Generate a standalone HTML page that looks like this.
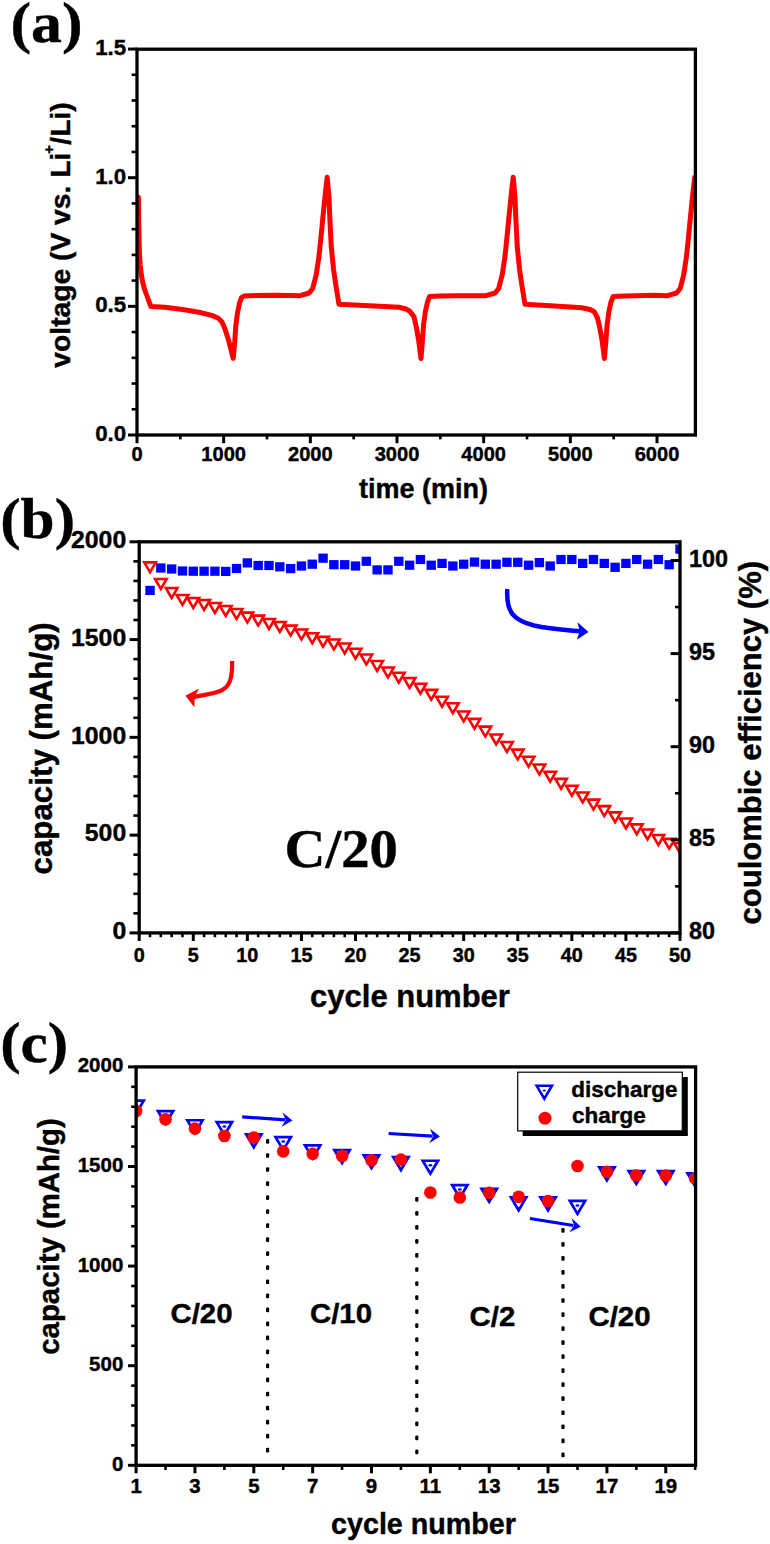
<!DOCTYPE html>
<html><head><meta charset="utf-8"><style>
html,body{margin:0;padding:0;background:#fff;}
svg{display:block;}
text{stroke:#000;stroke-width:0.4px;}
</style></head><body>
<svg width="770" height="1544" viewBox="0 0 770 1544">
<rect width="770" height="1544" fill="#fff"/>
<defs><clipPath id="ca"><rect x="137.00" y="49.20" width="558.40" height="385.80"/></clipPath></defs>
<path d="M138.4,197.3 L138.7,220.0 L139.1,240.0 L139.5,255.0 L140.2,265.0 L141.2,274.0 L142.6,282.0 L144.3,288.5 L146.3,294.0 L148.6,300.5 L151.0,306.6 L165.0,307.3 L186.0,310.0 L200.0,312.5 L211.8,315.4 L218.0,318.0 L222.0,322.0 L225.0,329.0 L228.5,340.0 L233.2,358.3 L234.7,342.0 L235.8,326.0 L237.4,313.5 L239.5,303.0 L241.6,297.5 L244.0,296.0 L256.0,295.5 L275.0,295.2 L290.0,295.4 L300.0,295.7 L309.1,293.0 L312.7,288.5 L316.3,274.4 L319.0,256.2 L320.9,238.1 L323.1,215.4 L325.4,192.7 L327.2,177.3 L329.0,197.2 L329.9,219.9 L331.3,247.1 L333.6,269.8 L336.3,288.0 L339.0,304.3 L374.5,305.9 L399.0,307.3 L406.0,309.0 L410.0,311.4 L414.0,316.8 L416.5,328.0 L418.6,340.0 L421.0,358.5 L422.5,340.0 L423.6,324.0 L425.5,311.0 L427.5,302.0 L429.5,296.5 L440.0,296.0 L456.4,295.8 L475.0,295.8 L486.0,295.7 L495.1,293.0 L498.7,288.5 L502.3,274.4 L505.0,256.2 L506.9,238.1 L509.1,215.4 L511.4,192.7 L513.2,177.3 L515.0,197.2 L515.9,219.9 L517.3,247.1 L519.6,269.8 L522.3,288.0 L525.0,304.3 L554.5,305.9 L581.8,307.8 L590.0,309.5 L594.0,311.4 L597.5,318.0 L599.5,326.4 L602.0,340.0 L604.4,358.5 L606.0,340.0 L607.2,324.0 L609.0,311.0 L611.0,302.0 L613.2,296.5 L625.0,296.0 L636.4,295.8 L655.0,295.3 L667.5,295.7 L676.6,293.0 L680.2,288.5 L683.8,274.4 L686.5,256.2 L688.4,238.1 L690.6,215.4 L692.9,192.7 L694.7,177.3" fill="none" stroke="#ff0000" stroke-width="5" stroke-linejoin="round" stroke-linecap="round" clip-path="url(#ca)"/>
<rect x="137.00" y="49.20" width="558.40" height="385.80" fill="none" stroke="#000" stroke-width="3.3"/>
<line x1="128.00" y1="435.00" x2="137.00" y2="435.00" stroke="#000" stroke-width="3.0" stroke-linecap="butt"/>
<line x1="131.60" y1="409.27" x2="137.00" y2="409.27" stroke="#000" stroke-width="2.6" stroke-linecap="butt"/>
<line x1="131.60" y1="383.54" x2="137.00" y2="383.54" stroke="#000" stroke-width="2.6" stroke-linecap="butt"/>
<line x1="131.60" y1="357.81" x2="137.00" y2="357.81" stroke="#000" stroke-width="2.6" stroke-linecap="butt"/>
<line x1="131.60" y1="332.08" x2="137.00" y2="332.08" stroke="#000" stroke-width="2.6" stroke-linecap="butt"/>
<line x1="128.00" y1="306.35" x2="137.00" y2="306.35" stroke="#000" stroke-width="3.0" stroke-linecap="butt"/>
<line x1="131.60" y1="280.62" x2="137.00" y2="280.62" stroke="#000" stroke-width="2.6" stroke-linecap="butt"/>
<line x1="131.60" y1="254.89" x2="137.00" y2="254.89" stroke="#000" stroke-width="2.6" stroke-linecap="butt"/>
<line x1="131.60" y1="229.16" x2="137.00" y2="229.16" stroke="#000" stroke-width="2.6" stroke-linecap="butt"/>
<line x1="131.60" y1="203.43" x2="137.00" y2="203.43" stroke="#000" stroke-width="2.6" stroke-linecap="butt"/>
<line x1="128.00" y1="177.70" x2="137.00" y2="177.70" stroke="#000" stroke-width="3.0" stroke-linecap="butt"/>
<line x1="131.60" y1="151.97" x2="137.00" y2="151.97" stroke="#000" stroke-width="2.6" stroke-linecap="butt"/>
<line x1="131.60" y1="126.24" x2="137.00" y2="126.24" stroke="#000" stroke-width="2.6" stroke-linecap="butt"/>
<line x1="131.60" y1="100.51" x2="137.00" y2="100.51" stroke="#000" stroke-width="2.6" stroke-linecap="butt"/>
<line x1="131.60" y1="74.78" x2="137.00" y2="74.78" stroke="#000" stroke-width="2.6" stroke-linecap="butt"/>
<line x1="128.00" y1="49.05" x2="137.00" y2="49.05" stroke="#000" stroke-width="3.0" stroke-linecap="butt"/>
<text x="126.20" y="440.80" font-family='"Liberation Sans", sans-serif' font-weight="bold" font-size="22.3" text-anchor="end" >0.0</text>
<text x="126.20" y="312.15" font-family='"Liberation Sans", sans-serif' font-weight="bold" font-size="22.3" text-anchor="end" >0.5</text>
<text x="126.20" y="183.50" font-family='"Liberation Sans", sans-serif' font-weight="bold" font-size="22.3" text-anchor="end" >1.0</text>
<text x="126.20" y="54.85" font-family='"Liberation Sans", sans-serif' font-weight="bold" font-size="22.3" text-anchor="end" >1.5</text>
<line x1="137.00" y1="435.00" x2="137.00" y2="443.20" stroke="#000" stroke-width="3.0" stroke-linecap="butt"/>
<line x1="180.33" y1="435.00" x2="180.33" y2="439.40" stroke="#000" stroke-width="2.6" stroke-linecap="butt"/>
<line x1="223.67" y1="435.00" x2="223.67" y2="443.20" stroke="#000" stroke-width="3.0" stroke-linecap="butt"/>
<line x1="267.00" y1="435.00" x2="267.00" y2="439.40" stroke="#000" stroke-width="2.6" stroke-linecap="butt"/>
<line x1="310.33" y1="435.00" x2="310.33" y2="443.20" stroke="#000" stroke-width="3.0" stroke-linecap="butt"/>
<line x1="353.67" y1="435.00" x2="353.67" y2="439.40" stroke="#000" stroke-width="2.6" stroke-linecap="butt"/>
<line x1="397.00" y1="435.00" x2="397.00" y2="443.20" stroke="#000" stroke-width="3.0" stroke-linecap="butt"/>
<line x1="440.33" y1="435.00" x2="440.33" y2="439.40" stroke="#000" stroke-width="2.6" stroke-linecap="butt"/>
<line x1="483.67" y1="435.00" x2="483.67" y2="443.20" stroke="#000" stroke-width="3.0" stroke-linecap="butt"/>
<line x1="527.00" y1="435.00" x2="527.00" y2="439.40" stroke="#000" stroke-width="2.6" stroke-linecap="butt"/>
<line x1="570.34" y1="435.00" x2="570.34" y2="443.20" stroke="#000" stroke-width="3.0" stroke-linecap="butt"/>
<line x1="613.67" y1="435.00" x2="613.67" y2="439.40" stroke="#000" stroke-width="2.6" stroke-linecap="butt"/>
<line x1="657.00" y1="435.00" x2="657.00" y2="443.20" stroke="#000" stroke-width="3.0" stroke-linecap="butt"/>
<text x="137.00" y="461.00" font-family='"Liberation Sans", sans-serif' font-weight="bold" font-size="20.1" text-anchor="middle" >0</text>
<text x="223.67" y="461.00" font-family='"Liberation Sans", sans-serif' font-weight="bold" font-size="20.1" text-anchor="middle" >1000</text>
<text x="310.33" y="461.00" font-family='"Liberation Sans", sans-serif' font-weight="bold" font-size="20.1" text-anchor="middle" >2000</text>
<text x="397.00" y="461.00" font-family='"Liberation Sans", sans-serif' font-weight="bold" font-size="20.1" text-anchor="middle" >3000</text>
<text x="483.67" y="461.00" font-family='"Liberation Sans", sans-serif' font-weight="bold" font-size="20.1" text-anchor="middle" >4000</text>
<text x="570.34" y="461.00" font-family='"Liberation Sans", sans-serif' font-weight="bold" font-size="20.1" text-anchor="middle" >5000</text>
<text x="657.00" y="461.00" font-family='"Liberation Sans", sans-serif' font-weight="bold" font-size="20.1" text-anchor="middle" >6000</text>
<text x="423.40" y="497.60" font-family='"Liberation Sans", sans-serif' font-weight="bold" font-size="27" text-anchor="middle" >time (min)</text>
<text transform="translate(70.4,235.0) rotate(-90) scale(1.009,1)" x="0" y="0" font-family='"Liberation Sans", sans-serif' font-weight="bold" font-size="28" text-anchor="middle">voltage (V vs. Li<tspan font-size="14.5" dx="-1" dy="-16.5">+</tspan><tspan dx="0.5" dy="16.5">/Li)</tspan></text>
<text transform="translate(10.50,41.80) scale(1.085,1)" font-family='"Liberation Serif", serif' font-weight="bold" font-size="57" text-anchor="start" >(a)</text>
<defs><clipPath id="cb"><rect x="139.20" y="541.80" width="540.80" height="391.10"/></clipPath></defs>
<g clip-path="url(#cb)">
<rect x="145.32" y="585.80" width="9.4" height="9.2" fill="#0000ff"/>
<rect x="156.13" y="563.40" width="9.4" height="9.2" fill="#0000ff"/>
<rect x="166.95" y="564.40" width="9.4" height="9.2" fill="#0000ff"/>
<rect x="177.76" y="566.40" width="9.4" height="9.2" fill="#0000ff"/>
<rect x="188.58" y="566.60" width="9.4" height="9.2" fill="#0000ff"/>
<rect x="199.40" y="566.60" width="9.4" height="9.2" fill="#0000ff"/>
<rect x="210.21" y="566.60" width="9.4" height="9.2" fill="#0000ff"/>
<rect x="221.03" y="566.80" width="9.4" height="9.2" fill="#0000ff"/>
<rect x="231.84" y="563.90" width="9.4" height="9.2" fill="#0000ff"/>
<rect x="242.66" y="558.30" width="9.4" height="9.2" fill="#0000ff"/>
<rect x="253.48" y="560.90" width="9.4" height="9.2" fill="#0000ff"/>
<rect x="264.29" y="560.90" width="9.4" height="9.2" fill="#0000ff"/>
<rect x="275.11" y="562.20" width="9.4" height="9.2" fill="#0000ff"/>
<rect x="285.92" y="564.00" width="9.4" height="9.2" fill="#0000ff"/>
<rect x="296.74" y="561.40" width="9.4" height="9.2" fill="#0000ff"/>
<rect x="307.56" y="559.60" width="9.4" height="9.2" fill="#0000ff"/>
<rect x="318.37" y="553.60" width="9.4" height="9.2" fill="#0000ff"/>
<rect x="329.19" y="560.10" width="9.4" height="9.2" fill="#0000ff"/>
<rect x="340.00" y="560.10" width="9.4" height="9.2" fill="#0000ff"/>
<rect x="350.82" y="561.40" width="9.4" height="9.2" fill="#0000ff"/>
<rect x="361.64" y="556.70" width="9.4" height="9.2" fill="#0000ff"/>
<rect x="372.45" y="565.30" width="9.4" height="9.2" fill="#0000ff"/>
<rect x="383.27" y="565.30" width="9.4" height="9.2" fill="#0000ff"/>
<rect x="394.08" y="556.70" width="9.4" height="9.2" fill="#0000ff"/>
<rect x="404.90" y="560.60" width="9.4" height="9.2" fill="#0000ff"/>
<rect x="415.72" y="554.90" width="9.4" height="9.2" fill="#0000ff"/>
<rect x="426.53" y="560.60" width="9.4" height="9.2" fill="#0000ff"/>
<rect x="437.35" y="558.80" width="9.4" height="9.2" fill="#0000ff"/>
<rect x="448.16" y="561.40" width="9.4" height="9.2" fill="#0000ff"/>
<rect x="458.98" y="559.60" width="9.4" height="9.2" fill="#0000ff"/>
<rect x="469.80" y="557.50" width="9.4" height="9.2" fill="#0000ff"/>
<rect x="480.61" y="559.60" width="9.4" height="9.2" fill="#0000ff"/>
<rect x="491.43" y="559.60" width="9.4" height="9.2" fill="#0000ff"/>
<rect x="502.24" y="557.70" width="9.4" height="9.2" fill="#0000ff"/>
<rect x="513.06" y="557.70" width="9.4" height="9.2" fill="#0000ff"/>
<rect x="523.88" y="560.60" width="9.4" height="9.2" fill="#0000ff"/>
<rect x="534.69" y="558.00" width="9.4" height="9.2" fill="#0000ff"/>
<rect x="545.51" y="561.40" width="9.4" height="9.2" fill="#0000ff"/>
<rect x="556.32" y="554.90" width="9.4" height="9.2" fill="#0000ff"/>
<rect x="567.14" y="554.90" width="9.4" height="9.2" fill="#0000ff"/>
<rect x="577.96" y="558.80" width="9.4" height="9.2" fill="#0000ff"/>
<rect x="588.77" y="554.90" width="9.4" height="9.2" fill="#0000ff"/>
<rect x="599.59" y="558.80" width="9.4" height="9.2" fill="#0000ff"/>
<rect x="610.40" y="562.70" width="9.4" height="9.2" fill="#0000ff"/>
<rect x="621.22" y="558.80" width="9.4" height="9.2" fill="#0000ff"/>
<rect x="632.04" y="554.90" width="9.4" height="9.2" fill="#0000ff"/>
<rect x="642.85" y="559.60" width="9.4" height="9.2" fill="#0000ff"/>
<rect x="653.67" y="554.90" width="9.4" height="9.2" fill="#0000ff"/>
<rect x="664.48" y="560.10" width="9.4" height="9.2" fill="#0000ff"/>
<rect x="675.30" y="544.50" width="9.4" height="9.2" fill="#0000ff"/>
<path d="M144.22,562.35 L155.82,562.35 L150.02,572.25 Z" fill="none" stroke="#ff0000" stroke-width="2.6" stroke-linejoin="miter"/>
<path d="M155.03,578.95 L166.63,578.95 L160.83,588.85 Z" fill="none" stroke="#ff0000" stroke-width="2.6" stroke-linejoin="miter"/>
<path d="M165.85,588.05 L177.45,588.05 L171.65,597.95 Z" fill="none" stroke="#ff0000" stroke-width="2.6" stroke-linejoin="miter"/>
<path d="M176.66,594.95 L188.26,594.95 L182.46,604.85 Z" fill="none" stroke="#ff0000" stroke-width="2.6" stroke-linejoin="miter"/>
<path d="M187.48,597.95 L199.08,597.95 L193.28,607.85 Z" fill="none" stroke="#ff0000" stroke-width="2.6" stroke-linejoin="miter"/>
<path d="M198.30,600.05 L209.90,600.05 L204.10,609.95 Z" fill="none" stroke="#ff0000" stroke-width="2.6" stroke-linejoin="miter"/>
<path d="M209.11,603.05 L220.71,603.05 L214.91,612.95 Z" fill="none" stroke="#ff0000" stroke-width="2.6" stroke-linejoin="miter"/>
<path d="M219.93,606.05 L231.53,606.05 L225.73,615.95 Z" fill="none" stroke="#ff0000" stroke-width="2.6" stroke-linejoin="miter"/>
<path d="M230.74,609.05 L242.34,609.05 L236.54,618.95 Z" fill="none" stroke="#ff0000" stroke-width="2.6" stroke-linejoin="miter"/>
<path d="M241.56,612.65 L253.16,612.65 L247.36,622.55 Z" fill="none" stroke="#ff0000" stroke-width="2.6" stroke-linejoin="miter"/>
<path d="M252.38,615.65 L263.98,615.65 L258.18,625.55 Z" fill="none" stroke="#ff0000" stroke-width="2.6" stroke-linejoin="miter"/>
<path d="M263.19,618.95 L274.79,618.95 L268.99,628.85 Z" fill="none" stroke="#ff0000" stroke-width="2.6" stroke-linejoin="miter"/>
<path d="M274.01,621.95 L285.61,621.95 L279.81,631.85 Z" fill="none" stroke="#ff0000" stroke-width="2.6" stroke-linejoin="miter"/>
<path d="M284.82,625.65 L296.42,625.65 L290.62,635.55 Z" fill="none" stroke="#ff0000" stroke-width="2.6" stroke-linejoin="miter"/>
<path d="M295.64,629.55 L307.24,629.55 L301.44,639.45 Z" fill="none" stroke="#ff0000" stroke-width="2.6" stroke-linejoin="miter"/>
<path d="M306.46,633.25 L318.06,633.25 L312.26,643.15 Z" fill="none" stroke="#ff0000" stroke-width="2.6" stroke-linejoin="miter"/>
<path d="M317.27,636.85 L328.87,636.85 L323.07,646.75 Z" fill="none" stroke="#ff0000" stroke-width="2.6" stroke-linejoin="miter"/>
<path d="M328.09,639.55 L339.69,639.55 L333.89,649.45 Z" fill="none" stroke="#ff0000" stroke-width="2.6" stroke-linejoin="miter"/>
<path d="M338.90,643.55 L350.50,643.55 L344.70,653.45 Z" fill="none" stroke="#ff0000" stroke-width="2.6" stroke-linejoin="miter"/>
<path d="M349.72,648.75 L361.32,648.75 L355.52,658.65 Z" fill="none" stroke="#ff0000" stroke-width="2.6" stroke-linejoin="miter"/>
<path d="M360.54,654.55 L372.14,654.55 L366.34,664.45 Z" fill="none" stroke="#ff0000" stroke-width="2.6" stroke-linejoin="miter"/>
<path d="M371.35,661.05 L382.95,661.05 L377.15,670.95 Z" fill="none" stroke="#ff0000" stroke-width="2.6" stroke-linejoin="miter"/>
<path d="M382.17,667.55 L393.77,667.55 L387.97,677.45 Z" fill="none" stroke="#ff0000" stroke-width="2.6" stroke-linejoin="miter"/>
<path d="M392.98,672.75 L404.58,672.75 L398.78,682.65 Z" fill="none" stroke="#ff0000" stroke-width="2.6" stroke-linejoin="miter"/>
<path d="M403.80,677.95 L415.40,677.95 L409.60,687.85 Z" fill="none" stroke="#ff0000" stroke-width="2.6" stroke-linejoin="miter"/>
<path d="M414.62,683.75 L426.22,683.75 L420.42,693.65 Z" fill="none" stroke="#ff0000" stroke-width="2.6" stroke-linejoin="miter"/>
<path d="M425.43,689.85 L437.03,689.85 L431.23,699.75 Z" fill="none" stroke="#ff0000" stroke-width="2.6" stroke-linejoin="miter"/>
<path d="M436.25,696.75 L447.85,696.75 L442.05,706.65 Z" fill="none" stroke="#ff0000" stroke-width="2.6" stroke-linejoin="miter"/>
<path d="M447.06,703.25 L458.66,703.25 L452.86,713.15 Z" fill="none" stroke="#ff0000" stroke-width="2.6" stroke-linejoin="miter"/>
<path d="M457.88,711.45 L469.48,711.45 L463.68,721.35 Z" fill="none" stroke="#ff0000" stroke-width="2.6" stroke-linejoin="miter"/>
<path d="M468.70,718.85 L480.30,718.85 L474.50,728.75 Z" fill="none" stroke="#ff0000" stroke-width="2.6" stroke-linejoin="miter"/>
<path d="M479.51,726.65 L491.11,726.65 L485.31,736.55 Z" fill="none" stroke="#ff0000" stroke-width="2.6" stroke-linejoin="miter"/>
<path d="M490.33,734.45 L501.93,734.45 L496.13,744.35 Z" fill="none" stroke="#ff0000" stroke-width="2.6" stroke-linejoin="miter"/>
<path d="M501.14,742.05 L512.74,742.05 L506.94,751.95 Z" fill="none" stroke="#ff0000" stroke-width="2.6" stroke-linejoin="miter"/>
<path d="M511.96,749.65 L523.56,749.65 L517.76,759.55 Z" fill="none" stroke="#ff0000" stroke-width="2.6" stroke-linejoin="miter"/>
<path d="M522.78,756.75 L534.38,756.75 L528.58,766.65 Z" fill="none" stroke="#ff0000" stroke-width="2.6" stroke-linejoin="miter"/>
<path d="M533.59,764.55 L545.19,764.55 L539.39,774.45 Z" fill="none" stroke="#ff0000" stroke-width="2.6" stroke-linejoin="miter"/>
<path d="M544.41,771.75 L556.01,771.75 L550.21,781.65 Z" fill="none" stroke="#ff0000" stroke-width="2.6" stroke-linejoin="miter"/>
<path d="M555.22,778.85 L566.82,778.85 L561.02,788.75 Z" fill="none" stroke="#ff0000" stroke-width="2.6" stroke-linejoin="miter"/>
<path d="M566.04,785.75 L577.64,785.75 L571.84,795.65 Z" fill="none" stroke="#ff0000" stroke-width="2.6" stroke-linejoin="miter"/>
<path d="M576.86,792.45 L588.46,792.45 L582.66,802.35 Z" fill="none" stroke="#ff0000" stroke-width="2.6" stroke-linejoin="miter"/>
<path d="M587.67,799.65 L599.27,799.65 L593.47,809.55 Z" fill="none" stroke="#ff0000" stroke-width="2.6" stroke-linejoin="miter"/>
<path d="M598.49,806.15 L610.09,806.15 L604.29,816.05 Z" fill="none" stroke="#ff0000" stroke-width="2.6" stroke-linejoin="miter"/>
<path d="M609.30,812.35 L620.90,812.35 L615.10,822.25 Z" fill="none" stroke="#ff0000" stroke-width="2.6" stroke-linejoin="miter"/>
<path d="M620.12,818.45 L631.72,818.45 L625.92,828.35 Z" fill="none" stroke="#ff0000" stroke-width="2.6" stroke-linejoin="miter"/>
<path d="M630.94,824.35 L642.54,824.35 L636.74,834.25 Z" fill="none" stroke="#ff0000" stroke-width="2.6" stroke-linejoin="miter"/>
<path d="M641.75,829.45 L653.35,829.45 L647.55,839.35 Z" fill="none" stroke="#ff0000" stroke-width="2.6" stroke-linejoin="miter"/>
<path d="M652.57,834.95 L664.17,834.95 L658.37,844.85 Z" fill="none" stroke="#ff0000" stroke-width="2.6" stroke-linejoin="miter"/>
<path d="M663.38,838.85 L674.98,838.85 L669.18,848.75 Z" fill="none" stroke="#ff0000" stroke-width="2.6" stroke-linejoin="miter"/>
<path d="M674.20,843.05 L685.80,843.05 L680.00,852.95 Z" fill="none" stroke="#ff0000" stroke-width="2.6" stroke-linejoin="miter"/>
</g>
<rect x="139.20" y="541.80" width="540.80" height="391.10" fill="none" stroke="#000" stroke-width="3.3"/>
<line x1="129.60" y1="932.90" x2="139.20" y2="932.90" stroke="#000" stroke-width="3.0" stroke-linecap="butt"/>
<line x1="133.40" y1="913.35" x2="139.20" y2="913.35" stroke="#000" stroke-width="2.6" stroke-linecap="butt"/>
<line x1="133.40" y1="893.79" x2="139.20" y2="893.79" stroke="#000" stroke-width="2.6" stroke-linecap="butt"/>
<line x1="133.40" y1="874.24" x2="139.20" y2="874.24" stroke="#000" stroke-width="2.6" stroke-linecap="butt"/>
<line x1="133.40" y1="854.68" x2="139.20" y2="854.68" stroke="#000" stroke-width="2.6" stroke-linecap="butt"/>
<line x1="129.60" y1="835.12" x2="139.20" y2="835.12" stroke="#000" stroke-width="3.0" stroke-linecap="butt"/>
<line x1="133.40" y1="815.57" x2="139.20" y2="815.57" stroke="#000" stroke-width="2.6" stroke-linecap="butt"/>
<line x1="133.40" y1="796.01" x2="139.20" y2="796.01" stroke="#000" stroke-width="2.6" stroke-linecap="butt"/>
<line x1="133.40" y1="776.46" x2="139.20" y2="776.46" stroke="#000" stroke-width="2.6" stroke-linecap="butt"/>
<line x1="133.40" y1="756.90" x2="139.20" y2="756.90" stroke="#000" stroke-width="2.6" stroke-linecap="butt"/>
<line x1="129.60" y1="737.35" x2="139.20" y2="737.35" stroke="#000" stroke-width="3.0" stroke-linecap="butt"/>
<line x1="133.40" y1="717.79" x2="139.20" y2="717.79" stroke="#000" stroke-width="2.6" stroke-linecap="butt"/>
<line x1="133.40" y1="698.24" x2="139.20" y2="698.24" stroke="#000" stroke-width="2.6" stroke-linecap="butt"/>
<line x1="133.40" y1="678.68" x2="139.20" y2="678.68" stroke="#000" stroke-width="2.6" stroke-linecap="butt"/>
<line x1="133.40" y1="659.13" x2="139.20" y2="659.13" stroke="#000" stroke-width="2.6" stroke-linecap="butt"/>
<line x1="129.60" y1="639.58" x2="139.20" y2="639.58" stroke="#000" stroke-width="3.0" stroke-linecap="butt"/>
<line x1="133.40" y1="620.02" x2="139.20" y2="620.02" stroke="#000" stroke-width="2.6" stroke-linecap="butt"/>
<line x1="133.40" y1="600.46" x2="139.20" y2="600.46" stroke="#000" stroke-width="2.6" stroke-linecap="butt"/>
<line x1="133.40" y1="580.91" x2="139.20" y2="580.91" stroke="#000" stroke-width="2.6" stroke-linecap="butt"/>
<line x1="133.40" y1="561.36" x2="139.20" y2="561.36" stroke="#000" stroke-width="2.6" stroke-linecap="butt"/>
<line x1="129.60" y1="541.80" x2="139.20" y2="541.80" stroke="#000" stroke-width="3.0" stroke-linecap="butt"/>
<text x="126.20" y="939.10" font-family='"Liberation Sans", sans-serif' font-weight="bold" font-size="24.8" text-anchor="end" >0</text>
<text x="126.20" y="841.33" font-family='"Liberation Sans", sans-serif' font-weight="bold" font-size="24.8" text-anchor="end" >500</text>
<text x="126.20" y="743.55" font-family='"Liberation Sans", sans-serif' font-weight="bold" font-size="24.8" text-anchor="end" >1000</text>
<text x="126.20" y="645.78" font-family='"Liberation Sans", sans-serif' font-weight="bold" font-size="24.8" text-anchor="end" >1500</text>
<text x="126.20" y="548.00" font-family='"Liberation Sans", sans-serif' font-weight="bold" font-size="24.8" text-anchor="end" >2000</text>
<line x1="670.60" y1="932.90" x2="680.00" y2="932.90" stroke="#000" stroke-width="3.0" stroke-linecap="butt"/>
<line x1="675.00" y1="886.35" x2="680.00" y2="886.35" stroke="#000" stroke-width="2.6" stroke-linecap="butt"/>
<line x1="670.60" y1="839.80" x2="680.00" y2="839.80" stroke="#000" stroke-width="3.0" stroke-linecap="butt"/>
<line x1="675.00" y1="793.25" x2="680.00" y2="793.25" stroke="#000" stroke-width="2.6" stroke-linecap="butt"/>
<line x1="670.60" y1="746.70" x2="680.00" y2="746.70" stroke="#000" stroke-width="3.0" stroke-linecap="butt"/>
<line x1="675.00" y1="700.15" x2="680.00" y2="700.15" stroke="#000" stroke-width="2.6" stroke-linecap="butt"/>
<line x1="670.60" y1="653.60" x2="680.00" y2="653.60" stroke="#000" stroke-width="3.0" stroke-linecap="butt"/>
<line x1="675.00" y1="607.05" x2="680.00" y2="607.05" stroke="#000" stroke-width="2.6" stroke-linecap="butt"/>
<line x1="670.60" y1="560.50" x2="680.00" y2="560.50" stroke="#000" stroke-width="3.0" stroke-linecap="butt"/>
<text x="689.00" y="939.20" font-family='"Liberation Sans", sans-serif' font-weight="bold" font-size="23.4" text-anchor="start" >80</text>
<text x="689.00" y="846.10" font-family='"Liberation Sans", sans-serif' font-weight="bold" font-size="23.4" text-anchor="start" >85</text>
<text x="689.00" y="753.00" font-family='"Liberation Sans", sans-serif' font-weight="bold" font-size="23.4" text-anchor="start" >90</text>
<text x="689.00" y="659.90" font-family='"Liberation Sans", sans-serif' font-weight="bold" font-size="23.4" text-anchor="start" >95</text>
<text x="689.00" y="566.80" font-family='"Liberation Sans", sans-serif' font-weight="bold" font-size="23.4" text-anchor="start" >100</text>
<line x1="139.20" y1="932.90" x2="139.20" y2="941.00" stroke="#000" stroke-width="3.0" stroke-linecap="butt"/>
<line x1="150.02" y1="932.90" x2="150.02" y2="937.20" stroke="#000" stroke-width="2.6" stroke-linecap="butt"/>
<line x1="160.83" y1="932.90" x2="160.83" y2="937.20" stroke="#000" stroke-width="2.6" stroke-linecap="butt"/>
<line x1="171.65" y1="932.90" x2="171.65" y2="937.20" stroke="#000" stroke-width="2.6" stroke-linecap="butt"/>
<line x1="182.46" y1="932.90" x2="182.46" y2="937.20" stroke="#000" stroke-width="2.6" stroke-linecap="butt"/>
<line x1="193.28" y1="932.90" x2="193.28" y2="941.00" stroke="#000" stroke-width="3.0" stroke-linecap="butt"/>
<line x1="204.10" y1="932.90" x2="204.10" y2="937.20" stroke="#000" stroke-width="2.6" stroke-linecap="butt"/>
<line x1="214.91" y1="932.90" x2="214.91" y2="937.20" stroke="#000" stroke-width="2.6" stroke-linecap="butt"/>
<line x1="225.73" y1="932.90" x2="225.73" y2="937.20" stroke="#000" stroke-width="2.6" stroke-linecap="butt"/>
<line x1="236.54" y1="932.90" x2="236.54" y2="937.20" stroke="#000" stroke-width="2.6" stroke-linecap="butt"/>
<line x1="247.36" y1="932.90" x2="247.36" y2="941.00" stroke="#000" stroke-width="3.0" stroke-linecap="butt"/>
<line x1="258.18" y1="932.90" x2="258.18" y2="937.20" stroke="#000" stroke-width="2.6" stroke-linecap="butt"/>
<line x1="268.99" y1="932.90" x2="268.99" y2="937.20" stroke="#000" stroke-width="2.6" stroke-linecap="butt"/>
<line x1="279.81" y1="932.90" x2="279.81" y2="937.20" stroke="#000" stroke-width="2.6" stroke-linecap="butt"/>
<line x1="290.62" y1="932.90" x2="290.62" y2="937.20" stroke="#000" stroke-width="2.6" stroke-linecap="butt"/>
<line x1="301.44" y1="932.90" x2="301.44" y2="941.00" stroke="#000" stroke-width="3.0" stroke-linecap="butt"/>
<line x1="312.26" y1="932.90" x2="312.26" y2="937.20" stroke="#000" stroke-width="2.6" stroke-linecap="butt"/>
<line x1="323.07" y1="932.90" x2="323.07" y2="937.20" stroke="#000" stroke-width="2.6" stroke-linecap="butt"/>
<line x1="333.89" y1="932.90" x2="333.89" y2="937.20" stroke="#000" stroke-width="2.6" stroke-linecap="butt"/>
<line x1="344.70" y1="932.90" x2="344.70" y2="937.20" stroke="#000" stroke-width="2.6" stroke-linecap="butt"/>
<line x1="355.52" y1="932.90" x2="355.52" y2="941.00" stroke="#000" stroke-width="3.0" stroke-linecap="butt"/>
<line x1="366.34" y1="932.90" x2="366.34" y2="937.20" stroke="#000" stroke-width="2.6" stroke-linecap="butt"/>
<line x1="377.15" y1="932.90" x2="377.15" y2="937.20" stroke="#000" stroke-width="2.6" stroke-linecap="butt"/>
<line x1="387.97" y1="932.90" x2="387.97" y2="937.20" stroke="#000" stroke-width="2.6" stroke-linecap="butt"/>
<line x1="398.78" y1="932.90" x2="398.78" y2="937.20" stroke="#000" stroke-width="2.6" stroke-linecap="butt"/>
<line x1="409.60" y1="932.90" x2="409.60" y2="941.00" stroke="#000" stroke-width="3.0" stroke-linecap="butt"/>
<line x1="420.42" y1="932.90" x2="420.42" y2="937.20" stroke="#000" stroke-width="2.6" stroke-linecap="butt"/>
<line x1="431.23" y1="932.90" x2="431.23" y2="937.20" stroke="#000" stroke-width="2.6" stroke-linecap="butt"/>
<line x1="442.05" y1="932.90" x2="442.05" y2="937.20" stroke="#000" stroke-width="2.6" stroke-linecap="butt"/>
<line x1="452.86" y1="932.90" x2="452.86" y2="937.20" stroke="#000" stroke-width="2.6" stroke-linecap="butt"/>
<line x1="463.68" y1="932.90" x2="463.68" y2="941.00" stroke="#000" stroke-width="3.0" stroke-linecap="butt"/>
<line x1="474.50" y1="932.90" x2="474.50" y2="937.20" stroke="#000" stroke-width="2.6" stroke-linecap="butt"/>
<line x1="485.31" y1="932.90" x2="485.31" y2="937.20" stroke="#000" stroke-width="2.6" stroke-linecap="butt"/>
<line x1="496.13" y1="932.90" x2="496.13" y2="937.20" stroke="#000" stroke-width="2.6" stroke-linecap="butt"/>
<line x1="506.94" y1="932.90" x2="506.94" y2="937.20" stroke="#000" stroke-width="2.6" stroke-linecap="butt"/>
<line x1="517.76" y1="932.90" x2="517.76" y2="941.00" stroke="#000" stroke-width="3.0" stroke-linecap="butt"/>
<line x1="528.58" y1="932.90" x2="528.58" y2="937.20" stroke="#000" stroke-width="2.6" stroke-linecap="butt"/>
<line x1="539.39" y1="932.90" x2="539.39" y2="937.20" stroke="#000" stroke-width="2.6" stroke-linecap="butt"/>
<line x1="550.21" y1="932.90" x2="550.21" y2="937.20" stroke="#000" stroke-width="2.6" stroke-linecap="butt"/>
<line x1="561.02" y1="932.90" x2="561.02" y2="937.20" stroke="#000" stroke-width="2.6" stroke-linecap="butt"/>
<line x1="571.84" y1="932.90" x2="571.84" y2="941.00" stroke="#000" stroke-width="3.0" stroke-linecap="butt"/>
<line x1="582.66" y1="932.90" x2="582.66" y2="937.20" stroke="#000" stroke-width="2.6" stroke-linecap="butt"/>
<line x1="593.47" y1="932.90" x2="593.47" y2="937.20" stroke="#000" stroke-width="2.6" stroke-linecap="butt"/>
<line x1="604.29" y1="932.90" x2="604.29" y2="937.20" stroke="#000" stroke-width="2.6" stroke-linecap="butt"/>
<line x1="615.10" y1="932.90" x2="615.10" y2="937.20" stroke="#000" stroke-width="2.6" stroke-linecap="butt"/>
<line x1="625.92" y1="932.90" x2="625.92" y2="941.00" stroke="#000" stroke-width="3.0" stroke-linecap="butt"/>
<line x1="636.74" y1="932.90" x2="636.74" y2="937.20" stroke="#000" stroke-width="2.6" stroke-linecap="butt"/>
<line x1="647.55" y1="932.90" x2="647.55" y2="937.20" stroke="#000" stroke-width="2.6" stroke-linecap="butt"/>
<line x1="658.37" y1="932.90" x2="658.37" y2="937.20" stroke="#000" stroke-width="2.6" stroke-linecap="butt"/>
<line x1="669.18" y1="932.90" x2="669.18" y2="937.20" stroke="#000" stroke-width="2.6" stroke-linecap="butt"/>
<line x1="680.00" y1="932.90" x2="680.00" y2="941.00" stroke="#000" stroke-width="3.0" stroke-linecap="butt"/>
<text x="139.20" y="961.70" font-family='"Liberation Sans", sans-serif' font-weight="bold" font-size="19.8" text-anchor="middle" >0</text>
<text x="193.28" y="961.70" font-family='"Liberation Sans", sans-serif' font-weight="bold" font-size="19.8" text-anchor="middle" >5</text>
<text x="247.36" y="961.70" font-family='"Liberation Sans", sans-serif' font-weight="bold" font-size="19.8" text-anchor="middle" >10</text>
<text x="301.44" y="961.70" font-family='"Liberation Sans", sans-serif' font-weight="bold" font-size="19.8" text-anchor="middle" >15</text>
<text x="355.52" y="961.70" font-family='"Liberation Sans", sans-serif' font-weight="bold" font-size="19.8" text-anchor="middle" >20</text>
<text x="409.60" y="961.70" font-family='"Liberation Sans", sans-serif' font-weight="bold" font-size="19.8" text-anchor="middle" >25</text>
<text x="463.68" y="961.70" font-family='"Liberation Sans", sans-serif' font-weight="bold" font-size="19.8" text-anchor="middle" >30</text>
<text x="517.76" y="961.70" font-family='"Liberation Sans", sans-serif' font-weight="bold" font-size="19.8" text-anchor="middle" >35</text>
<text x="571.84" y="961.70" font-family='"Liberation Sans", sans-serif' font-weight="bold" font-size="19.8" text-anchor="middle" >40</text>
<text x="625.92" y="961.70" font-family='"Liberation Sans", sans-serif' font-weight="bold" font-size="19.8" text-anchor="middle" >45</text>
<text x="680.00" y="961.70" font-family='"Liberation Sans", sans-serif' font-weight="bold" font-size="19.8" text-anchor="middle" >50</text>
<text x="410.00" y="1006.80" font-family='"Liberation Sans", sans-serif' font-weight="bold" font-size="31" text-anchor="middle" >cycle number</text>
<text transform="translate(52,748.4) rotate(-90) scale(1.01,1)" font-family='"Liberation Sans", sans-serif' font-weight="bold" font-size="31" text-anchor="middle">capacity (mAh/g)</text>
<text transform="translate(760.5,742.7) rotate(-90)" font-family='"Liberation Sans", sans-serif' font-weight="bold" font-size="31" text-anchor="middle">coulombic efficiency (%)</text>
<text transform="translate(0.20,538.10) scale(1.075,1)" font-family='"Liberation Serif", serif' font-weight="bold" font-size="57" text-anchor="start" >(b)</text>
<text transform="translate(284.60,867.00) scale(1.03,1)" font-family='"Liberation Serif", serif' font-weight="bold" font-size="55" text-anchor="start" >C/20</text>
<path d="M232.1,661 C232.5,678 230,688 219,691.5 C212,693.7 204,695 192,697.4" fill="none" stroke="#ff0000" stroke-width="4.2"/>
<path d="M185.4,695.7 L199,688.6 L194.6,697.3 L194.4,707.3 Z" fill="#ff0000"/>
<path d="M507.3,589 C506,612 513,620 534,625.5 C550,629 566,630 580,631.3" fill="none" stroke="#0000ff" stroke-width="4.5"/>
<path d="M588.5,632 L577.5,622.2 L579.6,631.5 L576.8,639.8 Z" fill="#0000ff"/>
<defs><clipPath id="cc"><rect x="136.10" y="1066.90" width="559.50" height="398.40"/></clipPath></defs>
<rect x="266.00" y="1139.10" width="3.2" height="4.7" rx="1.2" fill="#000"/>
<rect x="266.00" y="1153.13" width="3.2" height="4.7" rx="1.2" fill="#000"/>
<rect x="266.00" y="1167.16" width="3.2" height="4.7" rx="1.2" fill="#000"/>
<rect x="266.00" y="1181.19" width="3.2" height="4.7" rx="1.2" fill="#000"/>
<rect x="266.00" y="1195.22" width="3.2" height="4.7" rx="1.2" fill="#000"/>
<rect x="266.00" y="1209.25" width="3.2" height="4.7" rx="1.2" fill="#000"/>
<rect x="266.00" y="1223.28" width="3.2" height="4.7" rx="1.2" fill="#000"/>
<rect x="266.00" y="1237.31" width="3.2" height="4.7" rx="1.2" fill="#000"/>
<rect x="266.00" y="1251.34" width="3.2" height="4.7" rx="1.2" fill="#000"/>
<rect x="266.00" y="1265.37" width="3.2" height="4.7" rx="1.2" fill="#000"/>
<rect x="266.00" y="1279.40" width="3.2" height="4.7" rx="1.2" fill="#000"/>
<rect x="266.00" y="1293.43" width="3.2" height="4.7" rx="1.2" fill="#000"/>
<rect x="266.00" y="1307.46" width="3.2" height="4.7" rx="1.2" fill="#000"/>
<rect x="266.00" y="1321.49" width="3.2" height="4.7" rx="1.2" fill="#000"/>
<rect x="266.00" y="1335.52" width="3.2" height="4.7" rx="1.2" fill="#000"/>
<rect x="266.00" y="1349.55" width="3.2" height="4.7" rx="1.2" fill="#000"/>
<rect x="266.00" y="1363.58" width="3.2" height="4.7" rx="1.2" fill="#000"/>
<rect x="266.00" y="1377.61" width="3.2" height="4.7" rx="1.2" fill="#000"/>
<rect x="266.00" y="1391.64" width="3.2" height="4.7" rx="1.2" fill="#000"/>
<rect x="266.00" y="1405.67" width="3.2" height="4.7" rx="1.2" fill="#000"/>
<rect x="266.00" y="1419.70" width="3.2" height="4.7" rx="1.2" fill="#000"/>
<rect x="266.00" y="1433.73" width="3.2" height="4.7" rx="1.2" fill="#000"/>
<rect x="266.00" y="1447.76" width="3.2" height="4.7" rx="1.2" fill="#000"/>
<rect x="415.20" y="1197.00" width="3.2" height="4.7" rx="1.2" fill="#000"/>
<rect x="415.20" y="1211.03" width="3.2" height="4.7" rx="1.2" fill="#000"/>
<rect x="415.20" y="1225.06" width="3.2" height="4.7" rx="1.2" fill="#000"/>
<rect x="415.20" y="1239.09" width="3.2" height="4.7" rx="1.2" fill="#000"/>
<rect x="415.20" y="1253.12" width="3.2" height="4.7" rx="1.2" fill="#000"/>
<rect x="415.20" y="1267.15" width="3.2" height="4.7" rx="1.2" fill="#000"/>
<rect x="415.20" y="1281.18" width="3.2" height="4.7" rx="1.2" fill="#000"/>
<rect x="415.20" y="1295.21" width="3.2" height="4.7" rx="1.2" fill="#000"/>
<rect x="415.20" y="1309.24" width="3.2" height="4.7" rx="1.2" fill="#000"/>
<rect x="415.20" y="1323.27" width="3.2" height="4.7" rx="1.2" fill="#000"/>
<rect x="415.20" y="1337.30" width="3.2" height="4.7" rx="1.2" fill="#000"/>
<rect x="415.20" y="1351.33" width="3.2" height="4.7" rx="1.2" fill="#000"/>
<rect x="415.20" y="1365.36" width="3.2" height="4.7" rx="1.2" fill="#000"/>
<rect x="415.20" y="1379.39" width="3.2" height="4.7" rx="1.2" fill="#000"/>
<rect x="415.20" y="1393.42" width="3.2" height="4.7" rx="1.2" fill="#000"/>
<rect x="415.20" y="1407.45" width="3.2" height="4.7" rx="1.2" fill="#000"/>
<rect x="415.20" y="1421.48" width="3.2" height="4.7" rx="1.2" fill="#000"/>
<rect x="415.20" y="1435.51" width="3.2" height="4.7" rx="1.2" fill="#000"/>
<rect x="415.20" y="1449.54" width="3.2" height="4.7" rx="1.2" fill="#000"/>
<rect x="561.40" y="1228.00" width="3.2" height="4.7" rx="1.2" fill="#000"/>
<rect x="561.40" y="1242.03" width="3.2" height="4.7" rx="1.2" fill="#000"/>
<rect x="561.40" y="1256.06" width="3.2" height="4.7" rx="1.2" fill="#000"/>
<rect x="561.40" y="1270.09" width="3.2" height="4.7" rx="1.2" fill="#000"/>
<rect x="561.40" y="1284.12" width="3.2" height="4.7" rx="1.2" fill="#000"/>
<rect x="561.40" y="1298.15" width="3.2" height="4.7" rx="1.2" fill="#000"/>
<rect x="561.40" y="1312.18" width="3.2" height="4.7" rx="1.2" fill="#000"/>
<rect x="561.40" y="1326.21" width="3.2" height="4.7" rx="1.2" fill="#000"/>
<rect x="561.40" y="1340.24" width="3.2" height="4.7" rx="1.2" fill="#000"/>
<rect x="561.40" y="1354.27" width="3.2" height="4.7" rx="1.2" fill="#000"/>
<rect x="561.40" y="1368.30" width="3.2" height="4.7" rx="1.2" fill="#000"/>
<rect x="561.40" y="1382.33" width="3.2" height="4.7" rx="1.2" fill="#000"/>
<rect x="561.40" y="1396.36" width="3.2" height="4.7" rx="1.2" fill="#000"/>
<rect x="561.40" y="1410.39" width="3.2" height="4.7" rx="1.2" fill="#000"/>
<rect x="561.40" y="1424.42" width="3.2" height="4.7" rx="1.2" fill="#000"/>
<rect x="561.40" y="1438.45" width="3.2" height="4.7" rx="1.2" fill="#000"/>
<rect x="561.40" y="1452.48" width="3.2" height="4.7" rx="1.2" fill="#000"/>
<g clip-path="url(#cc)">
<path d="M128.45,1100.65 L143.75,1100.65 L136.10,1113.55 Z" fill="none" stroke="#0000ff" stroke-width="2.7" stroke-linejoin="miter"/>
<ellipse cx="136.10" cy="1105.10" rx="1.9" ry="1.25" fill="#0000ff"/>
<path d="M157.88,1111.05 L173.18,1111.05 L165.53,1123.95 Z" fill="none" stroke="#0000ff" stroke-width="2.7" stroke-linejoin="miter"/>
<ellipse cx="165.53" cy="1115.50" rx="1.9" ry="1.25" fill="#0000ff"/>
<path d="M187.30,1120.25 L202.60,1120.25 L194.95,1133.15 Z" fill="none" stroke="#0000ff" stroke-width="2.7" stroke-linejoin="miter"/>
<ellipse cx="194.95" cy="1124.70" rx="1.9" ry="1.25" fill="#0000ff"/>
<path d="M216.73,1122.15 L232.03,1122.15 L224.38,1135.05 Z" fill="none" stroke="#0000ff" stroke-width="2.7" stroke-linejoin="miter"/>
<ellipse cx="224.38" cy="1126.60" rx="1.9" ry="1.25" fill="#0000ff"/>
<path d="M246.15,1134.35 L261.45,1134.35 L253.80,1147.25 Z" fill="none" stroke="#0000ff" stroke-width="2.7" stroke-linejoin="miter"/>
<ellipse cx="253.80" cy="1138.80" rx="1.9" ry="1.25" fill="#0000ff"/>
<path d="M275.58,1137.15 L290.88,1137.15 L283.23,1150.05 Z" fill="none" stroke="#0000ff" stroke-width="2.7" stroke-linejoin="miter"/>
<ellipse cx="283.23" cy="1141.60" rx="1.9" ry="1.25" fill="#0000ff"/>
<path d="M305.01,1145.45 L320.31,1145.45 L312.66,1158.35 Z" fill="none" stroke="#0000ff" stroke-width="2.7" stroke-linejoin="miter"/>
<ellipse cx="312.66" cy="1149.90" rx="1.9" ry="1.25" fill="#0000ff"/>
<path d="M334.43,1150.15 L349.73,1150.15 L342.08,1163.05 Z" fill="none" stroke="#0000ff" stroke-width="2.7" stroke-linejoin="miter"/>
<ellipse cx="342.08" cy="1154.60" rx="1.9" ry="1.25" fill="#0000ff"/>
<path d="M363.86,1155.25 L379.16,1155.25 L371.51,1168.15 Z" fill="none" stroke="#0000ff" stroke-width="2.7" stroke-linejoin="miter"/>
<ellipse cx="371.51" cy="1159.70" rx="1.9" ry="1.25" fill="#0000ff"/>
<path d="M393.28,1157.15 L408.58,1157.15 L400.93,1170.05 Z" fill="none" stroke="#0000ff" stroke-width="2.7" stroke-linejoin="miter"/>
<ellipse cx="400.93" cy="1161.60" rx="1.9" ry="1.25" fill="#0000ff"/>
<path d="M422.71,1160.75 L438.01,1160.75 L430.36,1173.65 Z" fill="none" stroke="#0000ff" stroke-width="2.7" stroke-linejoin="miter"/>
<ellipse cx="430.36" cy="1165.20" rx="1.9" ry="1.25" fill="#0000ff"/>
<path d="M452.14,1185.05 L467.44,1185.05 L459.79,1197.95 Z" fill="none" stroke="#0000ff" stroke-width="2.7" stroke-linejoin="miter"/>
<ellipse cx="459.79" cy="1189.50" rx="1.9" ry="1.25" fill="#0000ff"/>
<path d="M481.56,1188.95 L496.86,1188.95 L489.21,1201.85 Z" fill="none" stroke="#0000ff" stroke-width="2.7" stroke-linejoin="miter"/>
<ellipse cx="489.21" cy="1193.40" rx="1.9" ry="1.25" fill="#0000ff"/>
<path d="M510.99,1197.35 L526.29,1197.35 L518.64,1210.25 Z" fill="none" stroke="#0000ff" stroke-width="2.7" stroke-linejoin="miter"/>
<ellipse cx="518.64" cy="1201.80" rx="1.9" ry="1.25" fill="#0000ff"/>
<path d="M540.41,1197.35 L555.71,1197.35 L548.06,1210.25 Z" fill="none" stroke="#0000ff" stroke-width="2.7" stroke-linejoin="miter"/>
<ellipse cx="548.06" cy="1201.80" rx="1.9" ry="1.25" fill="#0000ff"/>
<path d="M569.84,1200.95 L585.14,1200.95 L577.49,1213.85 Z" fill="none" stroke="#0000ff" stroke-width="2.7" stroke-linejoin="miter"/>
<ellipse cx="577.49" cy="1205.40" rx="1.9" ry="1.25" fill="#0000ff"/>
<path d="M599.27,1167.45 L614.57,1167.45 L606.92,1180.35 Z" fill="none" stroke="#0000ff" stroke-width="2.7" stroke-linejoin="miter"/>
<ellipse cx="606.92" cy="1171.90" rx="1.9" ry="1.25" fill="#0000ff"/>
<path d="M628.69,1171.05 L643.99,1171.05 L636.34,1183.95 Z" fill="none" stroke="#0000ff" stroke-width="2.7" stroke-linejoin="miter"/>
<ellipse cx="636.34" cy="1175.50" rx="1.9" ry="1.25" fill="#0000ff"/>
<path d="M658.12,1171.05 L673.42,1171.05 L665.77,1183.95 Z" fill="none" stroke="#0000ff" stroke-width="2.7" stroke-linejoin="miter"/>
<ellipse cx="665.77" cy="1175.50" rx="1.9" ry="1.25" fill="#0000ff"/>
<path d="M687.54,1173.45 L702.84,1173.45 L695.19,1186.35 Z" fill="none" stroke="#0000ff" stroke-width="2.7" stroke-linejoin="miter"/>
<ellipse cx="695.19" cy="1177.90" rx="1.9" ry="1.25" fill="#0000ff"/>
<circle cx="136.10" cy="1111.00" r="6.3" fill="#ff0000"/>
<circle cx="165.53" cy="1119.20" r="6.3" fill="#ff0000"/>
<circle cx="194.95" cy="1128.60" r="6.3" fill="#ff0000"/>
<circle cx="224.38" cy="1136.00" r="6.3" fill="#ff0000"/>
<circle cx="253.80" cy="1137.50" r="6.3" fill="#ff0000"/>
<circle cx="283.23" cy="1151.40" r="6.3" fill="#ff0000"/>
<circle cx="312.66" cy="1153.80" r="6.3" fill="#ff0000"/>
<circle cx="342.08" cy="1156.10" r="6.3" fill="#ff0000"/>
<circle cx="371.51" cy="1160.30" r="6.3" fill="#ff0000"/>
<circle cx="400.93" cy="1159.60" r="6.3" fill="#ff0000"/>
<circle cx="430.36" cy="1192.50" r="6.3" fill="#ff0000"/>
<circle cx="459.79" cy="1197.50" r="6.3" fill="#ff0000"/>
<circle cx="489.21" cy="1192.80" r="6.3" fill="#ff0000"/>
<circle cx="518.64" cy="1196.80" r="6.3" fill="#ff0000"/>
<circle cx="548.06" cy="1201.00" r="6.3" fill="#ff0000"/>
<circle cx="577.49" cy="1166.00" r="6.3" fill="#ff0000"/>
<circle cx="606.92" cy="1171.80" r="6.3" fill="#ff0000"/>
<circle cx="636.34" cy="1175.50" r="6.3" fill="#ff0000"/>
<circle cx="665.77" cy="1175.50" r="6.3" fill="#ff0000"/>
<circle cx="695.19" cy="1178.20" r="6.3" fill="#ff0000"/>
</g>
<rect x="136.10" y="1066.90" width="559.50" height="398.40" fill="none" stroke="#000" stroke-width="3.3"/>
<line x1="128.00" y1="1465.30" x2="136.10" y2="1465.30" stroke="#000" stroke-width="3.0" stroke-linecap="butt"/>
<line x1="131.20" y1="1445.38" x2="136.10" y2="1445.38" stroke="#000" stroke-width="2.6" stroke-linecap="butt"/>
<line x1="131.20" y1="1425.46" x2="136.10" y2="1425.46" stroke="#000" stroke-width="2.6" stroke-linecap="butt"/>
<line x1="131.20" y1="1405.54" x2="136.10" y2="1405.54" stroke="#000" stroke-width="2.6" stroke-linecap="butt"/>
<line x1="131.20" y1="1385.62" x2="136.10" y2="1385.62" stroke="#000" stroke-width="2.6" stroke-linecap="butt"/>
<line x1="128.00" y1="1365.70" x2="136.10" y2="1365.70" stroke="#000" stroke-width="3.0" stroke-linecap="butt"/>
<line x1="131.20" y1="1345.78" x2="136.10" y2="1345.78" stroke="#000" stroke-width="2.6" stroke-linecap="butt"/>
<line x1="131.20" y1="1325.86" x2="136.10" y2="1325.86" stroke="#000" stroke-width="2.6" stroke-linecap="butt"/>
<line x1="131.20" y1="1305.94" x2="136.10" y2="1305.94" stroke="#000" stroke-width="2.6" stroke-linecap="butt"/>
<line x1="131.20" y1="1286.02" x2="136.10" y2="1286.02" stroke="#000" stroke-width="2.6" stroke-linecap="butt"/>
<line x1="128.00" y1="1266.10" x2="136.10" y2="1266.10" stroke="#000" stroke-width="3.0" stroke-linecap="butt"/>
<line x1="131.20" y1="1246.18" x2="136.10" y2="1246.18" stroke="#000" stroke-width="2.6" stroke-linecap="butt"/>
<line x1="131.20" y1="1226.26" x2="136.10" y2="1226.26" stroke="#000" stroke-width="2.6" stroke-linecap="butt"/>
<line x1="131.20" y1="1206.34" x2="136.10" y2="1206.34" stroke="#000" stroke-width="2.6" stroke-linecap="butt"/>
<line x1="131.20" y1="1186.42" x2="136.10" y2="1186.42" stroke="#000" stroke-width="2.6" stroke-linecap="butt"/>
<line x1="128.00" y1="1166.50" x2="136.10" y2="1166.50" stroke="#000" stroke-width="3.0" stroke-linecap="butt"/>
<line x1="131.20" y1="1146.58" x2="136.10" y2="1146.58" stroke="#000" stroke-width="2.6" stroke-linecap="butt"/>
<line x1="131.20" y1="1126.66" x2="136.10" y2="1126.66" stroke="#000" stroke-width="2.6" stroke-linecap="butt"/>
<line x1="131.20" y1="1106.74" x2="136.10" y2="1106.74" stroke="#000" stroke-width="2.6" stroke-linecap="butt"/>
<line x1="131.20" y1="1086.82" x2="136.10" y2="1086.82" stroke="#000" stroke-width="2.6" stroke-linecap="butt"/>
<line x1="128.00" y1="1066.90" x2="136.10" y2="1066.90" stroke="#000" stroke-width="3.0" stroke-linecap="butt"/>
<text x="123.30" y="1470.80" font-family='"Liberation Sans", sans-serif' font-weight="bold" font-size="20.5" text-anchor="end" >0</text>
<text x="123.30" y="1371.20" font-family='"Liberation Sans", sans-serif' font-weight="bold" font-size="20.5" text-anchor="end" >500</text>
<text x="123.30" y="1271.60" font-family='"Liberation Sans", sans-serif' font-weight="bold" font-size="20.5" text-anchor="end" >1000</text>
<text x="123.30" y="1172.00" font-family='"Liberation Sans", sans-serif' font-weight="bold" font-size="20.5" text-anchor="end" >1500</text>
<text x="123.30" y="1072.40" font-family='"Liberation Sans", sans-serif' font-weight="bold" font-size="20.5" text-anchor="end" >2000</text>
<line x1="136.10" y1="1465.30" x2="136.10" y2="1473.30" stroke="#000" stroke-width="3.0" stroke-linecap="butt"/>
<line x1="165.53" y1="1465.30" x2="165.53" y2="1470.00" stroke="#000" stroke-width="2.6" stroke-linecap="butt"/>
<line x1="194.95" y1="1465.30" x2="194.95" y2="1473.30" stroke="#000" stroke-width="3.0" stroke-linecap="butt"/>
<line x1="224.38" y1="1465.30" x2="224.38" y2="1470.00" stroke="#000" stroke-width="2.6" stroke-linecap="butt"/>
<line x1="253.80" y1="1465.30" x2="253.80" y2="1473.30" stroke="#000" stroke-width="3.0" stroke-linecap="butt"/>
<line x1="283.23" y1="1465.30" x2="283.23" y2="1470.00" stroke="#000" stroke-width="2.6" stroke-linecap="butt"/>
<line x1="312.66" y1="1465.30" x2="312.66" y2="1473.30" stroke="#000" stroke-width="3.0" stroke-linecap="butt"/>
<line x1="342.08" y1="1465.30" x2="342.08" y2="1470.00" stroke="#000" stroke-width="2.6" stroke-linecap="butt"/>
<line x1="371.51" y1="1465.30" x2="371.51" y2="1473.30" stroke="#000" stroke-width="3.0" stroke-linecap="butt"/>
<line x1="400.93" y1="1465.30" x2="400.93" y2="1470.00" stroke="#000" stroke-width="2.6" stroke-linecap="butt"/>
<line x1="430.36" y1="1465.30" x2="430.36" y2="1473.30" stroke="#000" stroke-width="3.0" stroke-linecap="butt"/>
<line x1="459.79" y1="1465.30" x2="459.79" y2="1470.00" stroke="#000" stroke-width="2.6" stroke-linecap="butt"/>
<line x1="489.21" y1="1465.30" x2="489.21" y2="1473.30" stroke="#000" stroke-width="3.0" stroke-linecap="butt"/>
<line x1="518.64" y1="1465.30" x2="518.64" y2="1470.00" stroke="#000" stroke-width="2.6" stroke-linecap="butt"/>
<line x1="548.06" y1="1465.30" x2="548.06" y2="1473.30" stroke="#000" stroke-width="3.0" stroke-linecap="butt"/>
<line x1="577.49" y1="1465.30" x2="577.49" y2="1470.00" stroke="#000" stroke-width="2.6" stroke-linecap="butt"/>
<line x1="606.92" y1="1465.30" x2="606.92" y2="1473.30" stroke="#000" stroke-width="3.0" stroke-linecap="butt"/>
<line x1="636.34" y1="1465.30" x2="636.34" y2="1470.00" stroke="#000" stroke-width="2.6" stroke-linecap="butt"/>
<line x1="665.77" y1="1465.30" x2="665.77" y2="1473.30" stroke="#000" stroke-width="3.0" stroke-linecap="butt"/>
<line x1="695.19" y1="1465.30" x2="695.19" y2="1470.00" stroke="#000" stroke-width="2.6" stroke-linecap="butt"/>
<text x="136.10" y="1493.30" font-family='"Liberation Sans", sans-serif' font-weight="bold" font-size="20.4" text-anchor="middle" >1</text>
<text x="194.95" y="1493.30" font-family='"Liberation Sans", sans-serif' font-weight="bold" font-size="20.4" text-anchor="middle" >3</text>
<text x="253.80" y="1493.30" font-family='"Liberation Sans", sans-serif' font-weight="bold" font-size="20.4" text-anchor="middle" >5</text>
<text x="312.66" y="1493.30" font-family='"Liberation Sans", sans-serif' font-weight="bold" font-size="20.4" text-anchor="middle" >7</text>
<text x="371.51" y="1493.30" font-family='"Liberation Sans", sans-serif' font-weight="bold" font-size="20.4" text-anchor="middle" >9</text>
<text x="430.36" y="1493.30" font-family='"Liberation Sans", sans-serif' font-weight="bold" font-size="20.4" text-anchor="middle" >11</text>
<text x="489.21" y="1493.30" font-family='"Liberation Sans", sans-serif' font-weight="bold" font-size="20.4" text-anchor="middle" >13</text>
<text x="548.06" y="1493.30" font-family='"Liberation Sans", sans-serif' font-weight="bold" font-size="20.4" text-anchor="middle" >15</text>
<text x="606.92" y="1493.30" font-family='"Liberation Sans", sans-serif' font-weight="bold" font-size="20.4" text-anchor="middle" >17</text>
<text x="665.77" y="1493.30" font-family='"Liberation Sans", sans-serif' font-weight="bold" font-size="20.4" text-anchor="middle" >19</text>
<text x="423.50" y="1533.80" font-family='"Liberation Sans", sans-serif' font-weight="bold" font-size="28.7" text-anchor="middle" >cycle number</text>
<text transform="translate(59,1236.5) rotate(-90) scale(1.013,1)" font-family='"Liberation Sans", sans-serif' font-weight="bold" font-size="29" text-anchor="middle">capacity (mAh/g)</text>
<text transform="translate(0.20,1062.30) scale(1.075,1)" font-family='"Liberation Serif", serif' font-weight="bold" font-size="57" text-anchor="start" >(c)</text>
<text transform="translate(201.50,1323.40) scale(1.09,1)" font-family='"Liberation Sans", sans-serif' font-weight="bold" font-size="27" text-anchor="middle" >C/20</text>
<text transform="translate(341.00,1323.40) scale(1.09,1)" font-family='"Liberation Sans", sans-serif' font-weight="bold" font-size="27" text-anchor="middle" >C/10</text>
<text transform="translate(492.50,1325.60) scale(1.09,1)" font-family='"Liberation Sans", sans-serif' font-weight="bold" font-size="27" text-anchor="middle" >C/2</text>
<text transform="translate(619.50,1325.60) scale(1.09,1)" font-family='"Liberation Sans", sans-serif' font-weight="bold" font-size="27" text-anchor="middle" >C/20</text>
<line x1="242.20" y1="1116.90" x2="285.02" y2="1119.88" stroke="#0000ff" stroke-width="3.2" stroke-linecap="butt"/>
<path d="M292.50,1120.40 L282.53,1112.49 L285.72,1119.93 L281.53,1126.85 Z" fill="#0000ff"/>
<line x1="388.60" y1="1133.50" x2="432.51" y2="1136.15" stroke="#0000ff" stroke-width="3.2" stroke-linecap="butt"/>
<path d="M440.00,1136.60 L429.95,1128.78 L433.21,1136.19 L429.09,1143.15 Z" fill="#0000ff"/>
<line x1="529.90" y1="1218.50" x2="573.40" y2="1225.51" stroke="#0000ff" stroke-width="3.2" stroke-linecap="butt"/>
<path d="M580.80,1226.70 L571.58,1217.92 L574.09,1225.62 L569.29,1232.14 Z" fill="#0000ff"/>
<rect x="522.7" y="1077" width="165.1" height="59" fill="#000"/>
<rect x="517.7" y="1072.2" width="164.6" height="58.7" fill="#fff" stroke="#000" stroke-width="1.2"/>
<path d="M536.70,1085.80 L551.90,1085.80 L544.30,1098.60 Z" fill="none" stroke="#0000ff" stroke-width="2.6"/>
<ellipse cx="544.3" cy="1090.6" rx="1.6" ry="1.0" fill="#0000ff"/>
<circle cx="545" cy="1118.2" r="6.5" fill="#ff0000"/>
<text x="571.30" y="1096.70" font-family='"Liberation Sans", sans-serif' font-weight="bold" font-size="22.5" text-anchor="start" >discharge</text>
<text x="572.10" y="1123.30" font-family='"Liberation Sans", sans-serif' font-weight="bold" font-size="22.5" text-anchor="start" >charge</text>
</svg>
</body></html>
